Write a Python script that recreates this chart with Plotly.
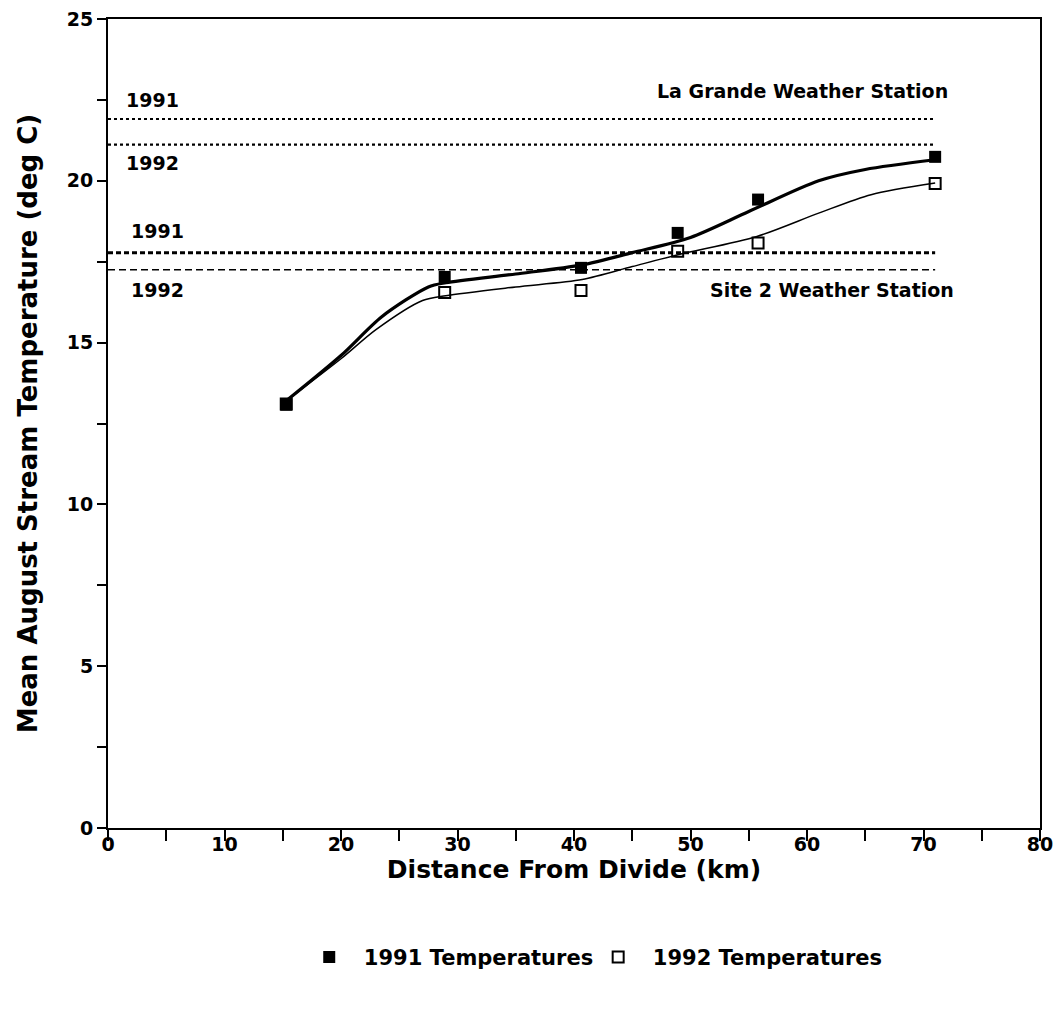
import plotly.graph_objects as go

# Measured points
dist_km = [15.3, 28.9, 40.6, 48.9, 55.8, 71.0]
temp_1991 = [13.08, 17.03, 17.31, 18.39, 19.42, 20.74]
temp_1992 = [13.1, 16.55, 16.61, 17.82, 18.08, 19.92]

# Smoothed curves
curve_x_1991 = [15.3, 20, 23.5, 27.5, 29, 35, 40.7, 45, 50, 55, 61, 65, 71]
curve_y_1991 = [13.2, 14.6, 15.8, 16.72, 16.85, 17.12, 17.4, 17.78, 18.25, 19.05, 20.0, 20.35, 20.65]
curve_x_1992 = [15.3, 20, 23, 27, 29, 35, 40.7, 45, 49, 55.7, 61, 65.5, 71]
curve_y_1992 = [13.2, 14.5, 15.4, 16.3, 16.45, 16.72, 16.95, 17.35, 17.72, 18.28, 19.0, 19.57, 19.93]

# Weather station reference lines
la_grande_1991 = 21.91
la_grande_1992 = 21.12
site2_1991 = 17.78
site2_1992 = 17.25
ref_x = [0, 71]

FONT = "DejaVu Sans"
fig = go.Figure()

# reference lines
fig.add_trace(go.Scatter(x=ref_x, y=[la_grande_1991] * 2, mode="lines",
                         line=dict(color="black", width=2.2, dash="dot"), showlegend=False, hoverinfo="skip"))
fig.add_trace(go.Scatter(x=ref_x, y=[la_grande_1992] * 2, mode="lines",
                         line=dict(color="black", width=2.2, dash="dot"), showlegend=False, hoverinfo="skip"))
fig.add_trace(go.Scatter(x=ref_x, y=[site2_1991] * 2, mode="lines",
                         line=dict(color="black", width=3, dash="5px,3px"), showlegend=False, hoverinfo="skip"))
fig.add_trace(go.Scatter(x=ref_x, y=[site2_1992] * 2, mode="lines",
                         line=dict(color="black", width=1.5, dash="7px,4px"), showlegend=False, hoverinfo="skip"))

# smooth curves
fig.add_trace(go.Scatter(x=curve_x_1991, y=curve_y_1991, mode="lines",
                         line=dict(color="black", width=3.2, shape="spline", smoothing=0.8),
                         showlegend=False, hoverinfo="skip"))
fig.add_trace(go.Scatter(x=curve_x_1992, y=curve_y_1992, mode="lines",
                         line=dict(color="black", width=1.5, shape="spline", smoothing=0.8),
                         showlegend=False, hoverinfo="skip"))

# markers
fig.add_trace(go.Scatter(x=dist_km, y=temp_1992, mode="markers", name="1992 Temperatures",
                         marker=dict(symbol="square-open", size=11, color="black", line=dict(width=2)),
                         legendrank=2))
fig.add_trace(go.Scatter(x=dist_km, y=temp_1991, mode="markers", name="1991 Temperatures",
                         marker=dict(symbol="square", size=12, color="black"),
                         legendrank=1))

ann_font = dict(family=FONT, size=19, color="black")
annotations = [
    dict(x=1.4, y=22.5, text="1991", xanchor="left", yanchor="middle"),
    dict(x=1.4, y=20.56, text="1992", xanchor="left", yanchor="middle"),
    dict(x=1.8, y=18.45, text="1991", xanchor="left", yanchor="middle"),
    dict(x=1.8, y=16.64, text="1992", xanchor="left", yanchor="middle"),
    dict(x=72.3, y=22.78, text="La Grande Weather Station", xanchor="right", yanchor="middle"),
    dict(x=72.8, y=16.64, text="Site 2 Weather Station", xanchor="right", yanchor="middle"),
]
for a in annotations:
    a.update(xref="x", yref="y", showarrow=False, font=ann_font)

fig.update_layout(
    width=1057, height=1029,
    margin=dict(l=108, r=17, t=19, b=201, autoexpand=False),
    paper_bgcolor="white", plot_bgcolor="white",
    font=dict(family=FONT, color="black"),
    annotations=annotations,
    showlegend=True,
    legend=dict(orientation="h", x=0.526, y=-0.16, xanchor="center", yanchor="middle",
                font=dict(family=FONT, size=21, color="black"), itemwidth=30,
                traceorder="normal"),
)
fig.update_xaxes(
    range=[0, 80], tickmode="linear", tick0=0, dtick=10, automargin=False,
    ticks="outside", ticklen=11, tickwidth=2, tickcolor="black", ticklabelstandoff=-13,
    minor=dict(dtick=5, ticks="outside", ticklen=11, tickwidth=2, tickcolor="black"),
    showline=True, linewidth=2, linecolor="black", mirror=True,
    showgrid=False, zeroline=False,
    tickfont=dict(family=FONT, size=19, color="black"),
    title=dict(text="<b>Distance From Divide (km)</b>", font=dict(family=FONT, size=25, color="black"), standoff=0),
)
fig.update_yaxes(
    range=[0, 25], tickmode="linear", tick0=0, dtick=5, automargin=False,
    ticks="outside", ticklen=9, tickwidth=2, tickcolor="black",
    minor=dict(dtick=2.5, ticks="outside", ticklen=9, tickwidth=1.5, tickcolor="black"),
    showline=True, linewidth=2, linecolor="black", mirror=True,
    showgrid=False, zeroline=False,
    tickfont=dict(family=FONT, size=19, color="black"),
    title=dict(text="<b>Mean August Stream Temperature (deg C)</b>", font=dict(family=FONT, size=26, color="black"), standoff=22),
)
fig.update_xaxes(tickprefix="<b>", ticksuffix="</b>")
fig.update_yaxes(tickprefix="<b>", ticksuffix="</b>")
for a in fig.layout.annotations:
    a.text = "<b>" + a.text + "</b>"
for tr in fig.data:
    if tr.name:
        tr.name = "<b>&nbsp;&nbsp;" + tr.name + "</b>"

fig.write_html("out.html")
